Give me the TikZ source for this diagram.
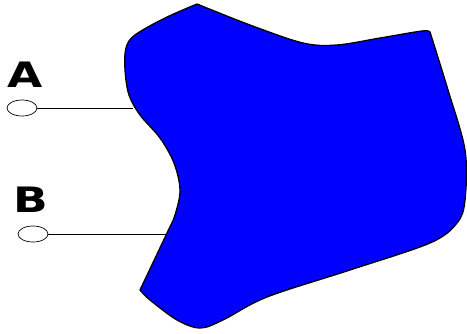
\documentclass[tikz,border=0pt]{standalone}
\usepackage{fontspec}
\setsansfont{DejaVu Sans}
\usepackage{xcolor}
\usepackage{tikz}
\usetikzlibrary{shapes.geometric}

\begin{document}
\begin{tikzpicture}[
    x=1pt, y=-1pt,
    blob/.style={draw=black, line width=1.3pt, fill={rgb,255:red,0;green,0;blue,255}, line join=round},
    term/.style={draw, ellipse, line width=0.7pt, minimum width=30pt, minimum height=16pt, inner sep=0pt},
    lab/.style={font=\sffamily\bfseries\fontsize{35}{35}\selectfont, inner sep=0pt},
    wire/.style={line width=1pt}
]
\useasboundingbox (0,0) rectangle (467,333);
% the body
\draw[blob] plot[smooth, tension=0.55] coordinates {(197,4) (165,18) (135,35) (126,48) (125,70) (129,95) (140,115) (160,138) (174,163) (180,190) (175,215) (167,233) (140,290)}
  -- plot[smooth, tension=0.55] coordinates {(140,290) (150,300) (177,320) (200,328) (223,320) (267,297) (350,270) (430,243) (457,223) (465,200) (465,150) (448,90) (430,32)}
  -- plot[smooth, tension=0.55] coordinates {(430,32) (422,31) (380,38) (337,45) (303,43) (250,25) (197,4)}
  -- cycle;
% terminals
\node[lab] (labA) at (25,75) {\scalebox{1.3}[1]{A}};
\node[lab] (labB) at (31,200) {\scalebox{1.3}[1]{B}};
\node[term] (termA) at (22,108) {};
\node[term] (termB) at (33,234) {};
\coordinate (jA) at (133,108);
\coordinate (jB) at (167,234);
\draw[wire] (termA) -- (jA);
\draw[wire] (termB) -- (jB);
\end{tikzpicture}
\end{document}
